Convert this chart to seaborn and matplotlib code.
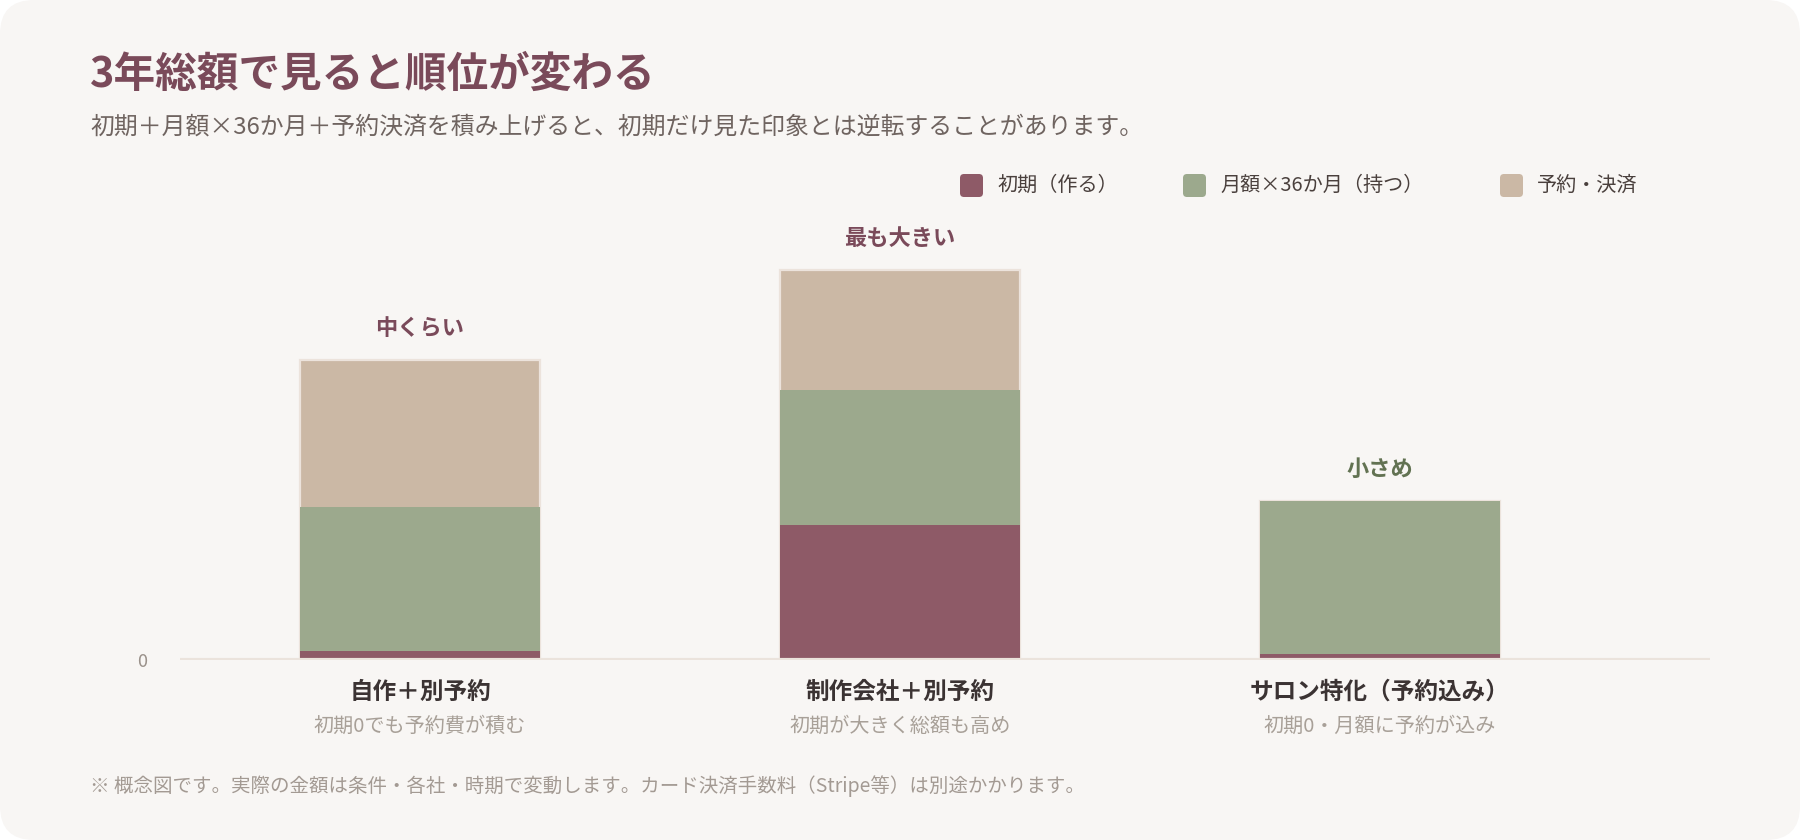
import matplotlib
matplotlib.use("Agg")
import matplotlib.pyplot as plt
from matplotlib.patches import FancyBboxPatch
import seaborn as sns
import numpy as np
import pandas as pd

# data (conceptual 3-year totals)
categories = ["自作＋別予約", "制作会社＋別予約", "サロン特化（予約込み）"]
sub_labels = ["初期0でも予約費が積む", "初期が大きく総額も高め", "初期0・月額に予約が込み"]
initial = [3, 45, 2]
monthly = [48, 45, 51]
booking = [49, 40, 0]
top_labels = ["中くらい", "最も大きい", "小さめ"]
series_names = ["初期（作る）", "月額×36か月（持つ）", "予約・決済"]

c_init = "#8e5a67"
c_month = "#9ca98d"
c_book = "#cbb8a5"
colors = [c_init, c_month, c_book]
bg = "#f8f6f4"

sns.set_theme(style="white")
plt.rcParams["font.family"] = ["Noto Sans CJK JP", "DejaVu Sans"]

df = pd.DataFrame({"cat": categories, "init": initial, "month": monthly, "book": booking})
df["lvl1"] = df["init"]
df["lvl2"] = df["init"] + df["month"]
df["lvl3"] = df["lvl2"] + df["book"]

fig = plt.figure(figsize=(18, 8.4), dpi=100)
fig.patch.set_facecolor("white")

# background card, pixel coords
bg_ax = fig.add_axes([0, 0, 1, 1], zorder=-1)
bg_ax.set_xlim(0, 1800)
bg_ax.set_ylim(840, 0)
bg_ax.axis("off")
bg_ax.add_patch(FancyBboxPatch((0, 0), 1800, 840, boxstyle="round,pad=0,rounding_size=34",
                               facecolor=bg, edgecolor="none"))

# title & subtitle
bg_ax.text(90, 75, "3年総額で見ると順位が変わる", fontsize=30, fontweight="bold",
           color="#7a4a5a", va="center", ha="left")
bg_ax.text(90, 127, "初期＋月額×36か月＋予約決済を積み上げると、初期だけ見た印象とは逆転することがあります。",
           fontsize=17.2, color="#6f6460", va="center", ha="left")

# legend
leg_x = [960, 1183, 1500]
for x, name, col in zip(leg_x, series_names, colors):
    bg_ax.add_patch(FancyBboxPatch((x, 174), 23, 23, boxstyle="round,pad=0,rounding_size=4",
                                   facecolor=col, edgecolor="none"))
    bg_ax.text(x + 37, 185, name, fontsize=14.5, color="#4a403d", va="center", ha="left")

# footer
bg_ax.text(90, 786, "※ 概念図です。実際の金額は条件・各社・時期で変動します。カード決済手数料（Stripe等）は別途かかります。",
           fontsize=14, color="#a39a93", va="center", ha="left")

# main chart
ax = fig.add_axes([180 / 1800, 180 / 840, 1530 / 1800, 440 / 840])
ax.set_facecolor("none")

sns.barplot(data=df, x="cat", y="lvl3", color=c_book, width=0.5, saturation=1,
            edgecolor="#ece3dc", linewidth=1.6, ax=ax)
sns.barplot(data=df, x="cat", y="lvl2", color=c_month, width=0.5, saturation=1,
            edgecolor="none", linewidth=0, ax=ax)
sns.barplot(data=df, x="cat", y="lvl1", color=c_init, width=0.5, saturation=1,
            edgecolor="none", linewidth=0, ax=ax)

ax.set_xlim(-0.5, 2.6875)
ax.set_ylim(0, 440 / 3)
ax.axhline(0, color="#ebe3dc", lw=3, zorder=5)
sns.despine(ax=ax, left=True, bottom=True)

ax.set_xticks([])
ax.set_xlabel("")
ax.set_ylabel("")
ax.set_yticks([0])
ax.set_yticklabels(["0"])
ax.tick_params(axis="y", length=0, pad=24, labelsize=13, labelcolor="#9a918a")

label_colors = ["#7a4a5a", "#7a4a5a", "#627252"]
for i, (tot, lab, lc) in enumerate(zip(df["lvl3"], top_labels, label_colors)):
    ax.annotate(lab, (i, tot), xytext=(0, 23), textcoords="offset points",
                ha="center", va="center", fontsize=16, fontweight="bold", color=lc)

for i, (cat, sub) in enumerate(zip(categories, sub_labels)):
    ax.text(i, -0.0727, cat, transform=ax.get_xaxis_transform(), ha="center", va="center",
            fontsize=17, fontweight="bold", color="#3b3333")
    ax.text(i, -0.15, sub, transform=ax.get_xaxis_transform(), ha="center", va="center",
            fontsize=14.5, color="#a8a098")

fig.savefig("out.png", dpi=100, facecolor="white")
